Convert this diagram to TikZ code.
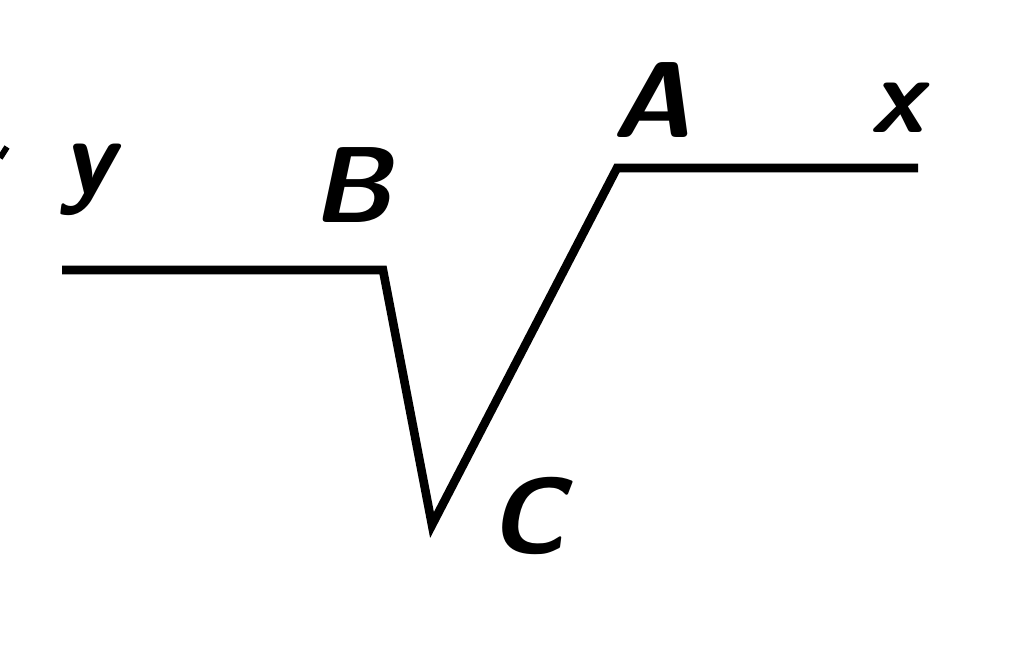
\documentclass[tikz,border=0pt]{standalone}
\begin{document}
\begin{tikzpicture}[x=0.5pt,y=-0.5pt,
  lbl/.style={inner sep=0pt,font=\fontsize{54}{60}\selectfont\sffamily\bfseries\itshape},
  wire/.style={line width=4.3pt,line join=miter,line cap=butt}]
\useasboundingbox (0,0) rectangle (1024,646);
\coordinate (p1) at (62,270);
\coordinate (B) at (383,270);
\coordinate (C) at (432,525);
\coordinate (A) at (617,168);
\coordinate (p2) at (918,168);
\draw[wire] (p1) -- (B) -- (C) -- (A) -- (p2);
\node[lbl] (ly) at (88,180) {y};
\node[lbl] (lB) at (352,185) {B};
\node[lbl] (lA) at (652,100) {A};
\node[lbl] (lx) at (897,108) {x};
\node[lbl] (lC) at (527,516) {C};
\draw[line width=3pt] (0,158) -- (7,147);
\end{tikzpicture}
\end{document}
